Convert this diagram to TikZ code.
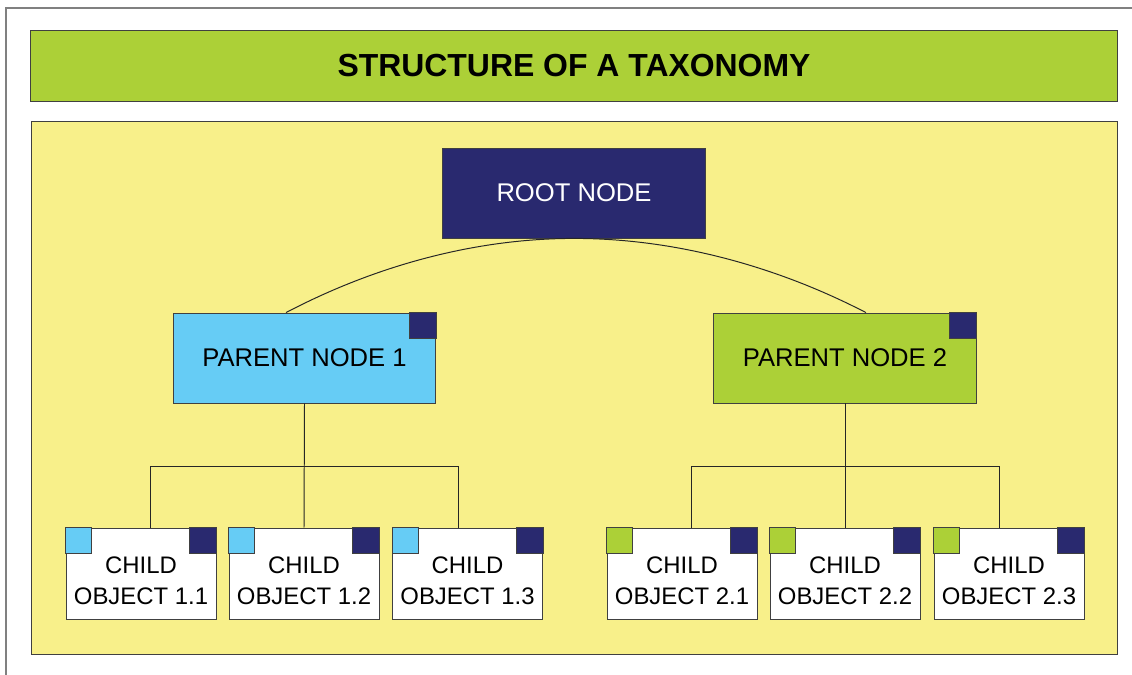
\documentclass[tikz,border=0pt]{standalone}
\usepackage{fontspec}
\setmainfont{Liberation Sans}
\usetikzlibrary{calc}
\definecolor{leafgreen}{HTML}{ACD037}
\definecolor{paleyellow}{HTML}{F8F08A}
\definecolor{navy}{HTML}{29296F}
\definecolor{skyblue}{HTML}{66CCF5}
\newcommand{\nodefont}{\fontsize{18.2}{22.7}\selectfont}
\newcommand{\childfont}{\fontsize{17}{22.7}\selectfont}
\newcommand{\childlabel}[1]{\raisebox{-6.5pt}[\height][\depth]{\begin{tabular}{@{}c@{}}CHILD\\OBJECT #1\end{tabular}}}

\begin{document}
\begin{tikzpicture}[x=0.025cm, y=-0.025cm,
  box/.style={draw=black!75, line width=0.6pt, inner sep=0pt, font=\nodefont},
  bignode/.style={box, minimum width=6.56cm, minimum height=2.25cm},
  childnode/.style={box, fill=white, font=\childfont, minimum width=3.75cm, minimum height=2.275cm},
  link/.style={line width=0.7pt, black!85}]
  \useasboundingbox (0,0) rectangle (1132,675);
  % Frame
  \draw[black!50, line width=0.8pt] (6,675) -- (6,8) -- (1132,8);
  \node[box, fill=leafgreen, minimum width=27.15cm, minimum height=1.775cm,
        font=\fontsize{22.7}{27}\selectfont\bfseries] (title) at (574,65.5) {STRUCTURE OF A TAXONOMY};
  \draw[black!75, line width=0.6pt, fill=paleyellow] (31,121) rectangle (1117,654);

  % Nodes
  \node[bignode, fill=navy, text=white] (root) at (574,193) {ROOT NODE};
  \node[bignode, fill=skyblue] (p1) at (304.5,358) {PARENT NODE 1};
  \node[bignode, fill=leafgreen] (p2) at (845,358) {PARENT NODE 2};
  \node[childnode] (c11) at (141,573.5) {\childlabel{1.1}};
  \node[childnode] (c12) at (304,573.5) {\childlabel{1.2}};
  \node[childnode] (c13) at (467.5,573.5) {\childlabel{1.3}};
  \node[childnode] (c21) at (682,573.5) {\childlabel{2.1}};
  \node[childnode] (c22) at (845,573.5) {\childlabel{2.2}};
  \node[childnode] (c23) at (1009,573.5) {\childlabel{2.3}};

  % Corner squares
  \foreach \n in {p1,p2,c11,c12,c13,c21,c22,c23}
    \draw[black!75, line width=0.6pt, fill=navy] (\n.north east) rectangle ++(-27,26);
  \foreach \n/\c in {c11/skyblue,c12/skyblue,c13/skyblue,c21/leafgreen,c22/leafgreen,c23/leafgreen}
    \draw[black!75, line width=0.6pt, fill=\c] (\n.north west) rectangle ++(26,26);

  % Links
  \draw[link] ($(p1.north)+(-18.5,0)$) parabola bend (root.south) ($(p2.north)+(21,0)$);
  \draw[link] (p1.south) -- (c12.north);
  \draw[link] ($(c11.north)+(9,0)$) -- ++(0,-61) -| ($(c13.north)+(-9.5,0)$);
  \draw[link] (p2.south) -- (c22.north);
  \draw[link] ($(c21.north)+(9,0)$) -- ++(0,-61) -| ($(c23.north)+(-10,0)$);
\end{tikzpicture}
\end{document}
